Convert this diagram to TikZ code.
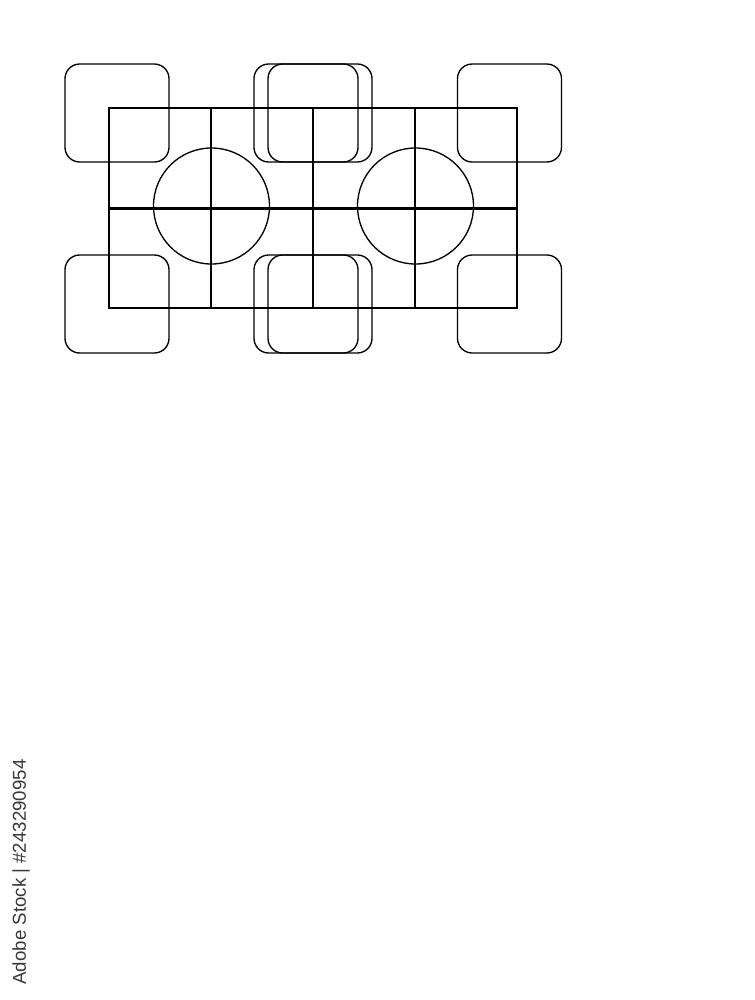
\documentclass[tikz,border=0pt]{standalone}
\usepackage{fontspec}
\newfontfamily\wmfont{Liberation Sans}
\begin{document}
\begin{tikzpicture}[x=0.75pt,y=-0.75pt,
  thinline/.style={line width=1pt,black},
  thickline/.style={line width=1.6pt,black},
  rsq/.style={draw,line width=1pt,rounded corners=11pt,minimum width=78pt,minimum height=73.5pt,inner sep=0pt},
  ring/.style={draw,circle,line width=1pt,minimum size=87pt,inner sep=0pt}]
\useasboundingbox (0,0) rectangle (754,1000);
\fill[white] (0,0) rectangle (754,1000);
% rounded squares
\node[rsq] (tl) at (117,113) {};
\node[rsq] (bl) at (117,304) {};
\node[rsq] (tm1) at (306,113) {};
\node[rsq] (tm2) at (320,113) {};
\node[rsq] (bm1) at (306,304) {};
\node[rsq] (bm2) at (320,304) {};
\node[rsq] (tr) at (509.5,113) {};
\node[rsq] (br) at (509.5,304) {};
% grid
\coordinate (g1) at (109,108);
\coordinate (g2) at (517,308);
\draw[thinline] (g1) rectangle (g2);
\draw[thickline] (109,208.5) -- (517,208.5);
\draw[thickline] (211,108) -- (211,308);
\draw[thinline] (313,108) -- (313,308);
\draw[thickline] (415,108) -- (415,308);
% circles
\node[ring] (c1) at (211.5,206) {};
\node[ring] (c2) at (415.5,206) {};
% side text
\node[rotate=90,text=black!78,font=\wmfont\fontsize{14}{16}\selectfont,inner sep=0pt] (wm) at (21,872) {Adobe Stock | \#243290954};
\end{tikzpicture}
\end{document}
